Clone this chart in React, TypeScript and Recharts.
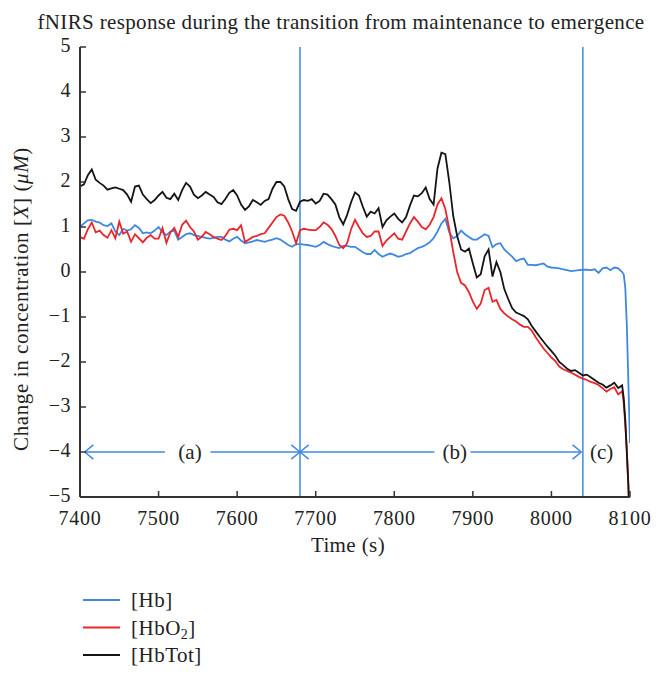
import React from "react";
import {
  LineChart,
  Line,
  XAxis,
  YAxis,
  ReferenceLine,
  ReferenceDot,
  Legend,
  Label
} from "recharts";

// sample times (s)
const times = [
  7400, 7405, 7410, 7415, 7420, 7425, 7430, 7435, 7440, 7445,
  7450, 7455, 7460, 7465, 7470, 7475, 7480, 7485, 7490, 7495,
  7500, 7505, 7510, 7515, 7520, 7525, 7530, 7535, 7540, 7545,
  7550, 7555, 7560, 7565, 7570, 7575, 7580, 7585, 7590, 7595,
  7600, 7605, 7610, 7615, 7620, 7625, 7630, 7635, 7640, 7645,
  7650, 7655, 7660, 7665, 7670, 7675, 7680, 7685, 7690, 7695,
  7700, 7705, 7710, 7715, 7720, 7725, 7730, 7735, 7740, 7745,
  7750, 7755, 7760, 7765, 7770, 7775, 7780, 7785, 7790, 7795,
  7800, 7805, 7810, 7815, 7820, 7825, 7830, 7835, 7840, 7845,
  7850, 7855, 7860, 7865, 7870, 7875, 7880, 7885, 7890, 7895,
  7900, 7905, 7910, 7915, 7920, 7925, 7930, 7935, 7940, 7945,
  7950, 7955, 7960, 7965, 7970, 7975, 7980, 7985, 7990, 7995,
  8000, 8005, 8010, 8015, 8020, 8025, 8030, 8035, 8040, 8045,
  8050, 8055, 8060, 8065, 8070, 8075, 8080, 8085, 8090,
  8092, 8094, 8096, 8098, 8100
];

const hb = [
  1.0, 1.08, 1.15, 1.16, 1.12, 1.1, 1.04, 1.02, 1.08, 0.9,
  0.82, 0.96, 0.92, 0.95, 1.04, 0.98, 0.86, 0.88, 0.86, 0.92,
  1.0, 0.88, 0.82, 0.9, 0.92, 0.72, 0.78, 0.84, 0.86, 0.82,
  0.8, 0.78, 0.76, 0.74, 0.76, 0.78, 0.78, 0.72, 0.68, 0.74,
  0.78, 0.7, 0.64, 0.66, 0.68, 0.71, 0.69, 0.67, 0.7, 0.72,
  0.75, 0.72, 0.66, 0.6, 0.56, 0.62, 0.62, 0.61, 0.6, 0.58,
  0.56, 0.6, 0.67, 0.62, 0.58, 0.55, 0.53, 0.58, 0.58, 0.56,
  0.56, 0.5, 0.44, 0.4, 0.4, 0.49, 0.4, 0.34, 0.38, 0.41,
  0.38, 0.34, 0.36, 0.4, 0.42, 0.48, 0.53, 0.56, 0.6, 0.66,
  0.75, 0.9, 1.08, 1.18, 0.88, 0.75, 0.8, 0.92, 0.84, 0.78,
  0.72, 0.72, 0.78, 0.84, 0.8, 0.55, 0.62, 0.64, 0.5, 0.42,
  0.34, 0.24, 0.28, 0.3, 0.16, 0.16, 0.15, 0.17, 0.19, 0.12,
  0.1, 0.09, 0.08, 0.06, 0.04, 0.02, 0.03, 0.04, 0.05, 0.05,
  0.04, 0.06, -0.02, 0.08, 0.1, 0.04, 0.1, 0.08, 0.0,
  -0.05, -0.35, -1.2, -2.5, -3.8
];

const hbo2 = [
  0.78, 0.74, 0.95, 1.1, 0.88, 0.92, 0.82, 0.76, 0.93, 0.75,
  1.12, 0.85, 0.9, 0.67, 0.84, 0.75, 0.66, 0.76, 0.82, 0.74,
  0.74, 0.98, 0.65, 0.88, 0.98, 0.78, 1.05, 1.14, 1.0, 0.9,
  0.72, 0.78, 0.89, 0.84, 0.78, 0.74, 0.71, 0.8, 0.94, 0.96,
  0.93, 1.04, 0.67, 0.72, 0.78, 0.8, 0.84, 0.86, 0.98, 1.1,
  1.22, 1.28, 1.25, 1.1, 0.9, 0.64, 0.93, 0.96, 0.94, 0.93,
  0.93, 1.0, 1.1, 1.05, 0.96, 0.8, 0.6, 0.53, 0.64, 0.95,
  1.16, 1.0, 0.86, 0.78, 0.8, 0.9, 0.9, 0.58, 0.7, 0.78,
  0.86, 0.74, 0.72, 0.9, 1.08, 1.22, 1.12, 1.0, 0.95, 1.05,
  1.22, 1.5, 1.64, 1.4, 0.95, 0.45, 0.0, -0.24, -0.3, -0.45,
  -0.66, -0.82, -0.7, -0.4, -0.35, -0.66, -0.62, -0.82, -0.92, -0.99,
  -1.05, -1.1, -1.17, -1.22, -1.22, -1.3, -1.45, -1.58, -1.7, -1.8,
  -1.9, -1.98, -2.1, -2.16, -2.2, -2.24, -2.28, -2.33, -2.37, -2.4,
  -2.44, -2.47, -2.51, -2.58, -2.66, -2.6, -2.56, -2.72, -2.65,
  -2.9, -3.4, -3.96, -4.8, -6.0
];

const hbTot = [
  1.9, 1.95, 2.15, 2.28, 2.05, 1.98, 1.92, 1.83, 1.86, 1.88,
  1.85, 1.82, 1.72, 1.56, 1.9, 1.92, 1.72, 1.62, 1.53, 1.6,
  1.7, 1.78, 1.65, 1.62, 1.74, 1.6, 1.82, 1.98, 1.9, 1.72,
  1.64, 1.7, 1.78, 1.72, 1.67, 1.55, 1.51, 1.62, 1.76, 1.82,
  1.7, 1.5, 1.38, 1.46, 1.6, 1.55, 1.49, 1.58, 1.62, 1.85,
  2.0, 2.0, 1.9, 1.62, 1.4, 1.36, 1.56, 1.6, 1.58, 1.62,
  1.52, 1.58, 1.74, 1.72, 1.62, 1.5, 1.22, 1.06, 1.27, 1.55,
  1.77, 1.7, 1.45, 1.23, 1.34, 1.3, 1.42, 1.0, 1.15, 1.23,
  1.3, 1.18, 1.1, 1.22, 1.48, 1.7, 1.68, 1.75, 1.88, 1.62,
  1.5, 2.3, 2.65, 2.62, 2.0, 1.25, 0.8, 0.5, 0.45, 0.52,
  0.19, -0.12, -0.05, 0.35, 0.5, -0.1, 0.22, 0.0, -0.38, -0.6,
  -0.8, -0.9, -0.94, -0.98, -1.05, -1.2, -1.32, -1.44, -1.55, -1.66,
  -1.76, -1.86, -2.0, -2.07, -2.15, -2.2, -2.18, -2.24, -2.3, -2.28,
  -2.34, -2.4, -2.46, -2.5, -2.57, -2.52, -2.46, -2.58, -2.52,
  -2.8, -3.29, -4.03, -4.75, -6.0
];

const xTicks = [7400, 7500, 7600, 7700, 7800, 7900, 8000, 8100];
const yTicks = [-5, -4, -3, -2, -1, 0, 1, 2, 3, 4, 5];

// phase boundaries and the (a)/(b)/(c) annotations
const phaseBounds = [7680, 8040];
const arrowLevel = -4;
const phaseArrows = [
  { from: 7406, to: 7680, gapFrom: 7508, gapTo: 7566, label: "(a)", labelAt: 7540 },
  { from: 7680, to: 8038, gapFrom: 7851, gapTo: 7897, label: "(b)", labelAt: 7877 }
];
const lastPhase = { label: "(c)", labelAt: 8064 };

const BLUE = "#3f88e0";
const RED = "#e8262b";
const BLACK = "#141414";
const FRAME = "#333333";
const SERIF = "'Liberation Serif', 'DejaVu Serif', serif";

const series = [
  { key: "hb", name: "[Hb]", color: BLUE },
  { key: "hbo2", name: "[HbO2]", color: RED },
  { key: "hbTot", name: "[HbTot]", color: BLACK }
];

const data = times.map((t, i) => ({ t, hb: hb[i], hbo2: hbo2[i], hbTot: hbTot[i] }));

const fmt = (v: number) => (v < 0 ? "\u2212" + Math.abs(v) : String(v));

const XTick = (props: any) => {
  const { x, y, payload } = props;
  return (
    <g>
      <line x1={x} y1={y} x2={x} y2={y - 6} stroke={FRAME} strokeWidth={1.5} />
      <text x={x} y={y + 28} textAnchor="middle" fontSize={20} letterSpacing={0.7} fontFamily={SERIF} fill="#222">
        {payload.value}
      </text>
    </g>
  );
};

const YTick = (props: any) => {
  const { x, y, payload } = props;
  return (
    <g>
      <line x1={x} y1={y} x2={x + 6} y2={y} stroke={FRAME} strokeWidth={1.5} />
      <text x={x - 9} y={y + 4.5} textAnchor="end" fontSize={20} letterSpacing={0.5} fontFamily={SERIF} fill="#222">
        {fmt(payload.value)}
      </text>
    </g>
  );
};

const YLabel = (props: any) => {
  const vb = props.viewBox || {};
  const cx = 20;
  const cy = (vb.y || 0) + (vb.height || 0) / 2 + 27;
  return (
    <text
      x={cx}
      y={cy}
      transform={`rotate(-90, ${cx}, ${cy})`}
      textAnchor="middle"
      fontSize={21}
      letterSpacing={0.6}
      fontFamily={SERIF}
      fill="#222"
    >
      Change in concentration [<tspan fontStyle="italic">X</tspan>] (<tspan fontStyle="italic">μM</tspan>)
    </text>
  );
};

const XLabel = (props: any) => {
  const vb = props.viewBox || {};
  return (
    <text
      x={(vb.x || 0) + (vb.width || 0) / 2 - 7}
      y={(vb.y || 0) + 55}
      textAnchor="middle"
      fontSize={21}
      letterSpacing={0.4}
      fontFamily={SERIF}
      fill="#222"
    >
      Time (s)
    </text>
  );
};

const LegendBox = () => (
  <svg width={220} height={83} style={{ display: "block" }}>
    {series.map((s, i) => {
      const cy = 14 + i * 27.5;
      return (
        <g key={s.key}>
          <line x1={0} y1={cy} x2={37} y2={cy} stroke={s.color} strokeWidth={2} />
          <text x={48} y={cy + 7} fontSize={21} letterSpacing={0.5} fontFamily={SERIF} fill="#222">
            {s.key === "hbo2" ? (
              <>
                [HbO<tspan fontSize={14} dy={4}>2</tspan><tspan dy={-4}>]</tspan>
              </>
            ) : (
              s.name
            )}
          </text>
        </g>
      );
    })}
  </svg>
);

const headDx = 11;
const headDy = 0.16;

export default function App() {
  return (
    <LineChart
      width={649}
      height={663}
      data={data}
      margin={{ top: 39, right: 27, bottom: 31, left: 0 }}
    >
      <text x={333} y={21} textAnchor="middle" fontSize={21} letterSpacing={0.35} fontFamily={SERIF} fill="#222">
        fNIRS response during the transition from maintenance to emergence
      </text>
      <XAxis
        dataKey="t"
        type="number"
        domain={[7400, 8100]}
        ticks={xTicks}
        allowDataOverflow
        height={60}
        tickSize={0}
        tickMargin={0}
        tickLine={false}
        tick={<XTick />}
        axisLine={{ stroke: FRAME, strokeWidth: 2 }}
      >
        <Label content={<XLabel />} />
      </XAxis>
      <XAxis
        xAxisId="top"
        dataKey="t"
        type="number"
        orientation="top"
        mirror
        domain={[7400, 8100]}
        ticks={xTicks}
        height={0}
        tick={false}
        tickSize={6}
        tickLine={{ stroke: FRAME, strokeWidth: 1.5 }}
        axisLine={{ stroke: FRAME, strokeWidth: 2 }}
      />
      <YAxis
        type="number"
        domain={[-5, 5]}
        ticks={yTicks}
        allowDataOverflow
        width={72}
        tickSize={0}
        tickMargin={0}
        tickLine={false}
        tick={<YTick />}
        axisLine={{ stroke: FRAME, strokeWidth: 2 }}
      >
        <Label content={<YLabel />} />
      </YAxis>
      <YAxis
        yAxisId="right"
        type="number"
        orientation="right"
        mirror
        domain={[-5, 5]}
        ticks={yTicks}
        width={0}
        tick={false}
        tickSize={6}
        tickLine={{ stroke: FRAME, strokeWidth: 1.5 }}
        axisLine={{ stroke: FRAME, strokeWidth: 2 }}
      />
      {phaseBounds.map((b) => (
        <ReferenceLine key={b} x={b} stroke={BLUE} strokeWidth={1.5} />
      ))}
      {phaseArrows.map((a) => (
        <React.Fragment key={a.label}>
          <ReferenceLine segment={[{ x: a.from, y: arrowLevel }, { x: a.gapFrom, y: arrowLevel }]} stroke={BLUE} strokeWidth={1.5} />
          <ReferenceLine segment={[{ x: a.gapTo, y: arrowLevel }, { x: a.to, y: arrowLevel }]} stroke={BLUE} strokeWidth={1.5} />
          <ReferenceLine segment={[{ x: a.from, y: arrowLevel }, { x: a.from + headDx, y: arrowLevel + headDy }]} stroke={BLUE} strokeWidth={1.5} />
          <ReferenceLine segment={[{ x: a.from, y: arrowLevel }, { x: a.from + headDx, y: arrowLevel - headDy }]} stroke={BLUE} strokeWidth={1.5} />
          <ReferenceLine segment={[{ x: a.to, y: arrowLevel }, { x: a.to - headDx, y: arrowLevel + headDy }]} stroke={BLUE} strokeWidth={1.5} />
          <ReferenceLine segment={[{ x: a.to, y: arrowLevel }, { x: a.to - headDx, y: arrowLevel - headDy }]} stroke={BLUE} strokeWidth={1.5} />
          <ReferenceDot
            x={a.labelAt}
            y={arrowLevel}
            r={0}
            fill="none"
            stroke="none"
            label={{ value: a.label, position: "center", fontSize: 21, fontFamily: SERIF, fill: "#222" }}
          />
        </React.Fragment>
      ))}
      <ReferenceDot
        x={lastPhase.labelAt}
        y={arrowLevel}
        r={0}
        fill="none"
        stroke="none"
        label={{ value: lastPhase.label, position: "center", fontSize: 21, fontFamily: SERIF, fill: "#222" }}
      />
      {series.map((s) => (
        <Line
          key={s.key}
          dataKey={s.key}
          name={s.name}
          type="linear"
          stroke={s.color}
          strokeWidth={1.8}
          dot={false}
          activeDot={false}
          isAnimationActive={false}
        />
      ))}
      <Legend
        layout="horizontal"
        verticalAlign="bottom"
        align="left"
        content={<LegendBox />}
        wrapperStyle={{ top: 578, left: 75, width: 220, height: 83 }}
      />
    </LineChart>
  );
}
